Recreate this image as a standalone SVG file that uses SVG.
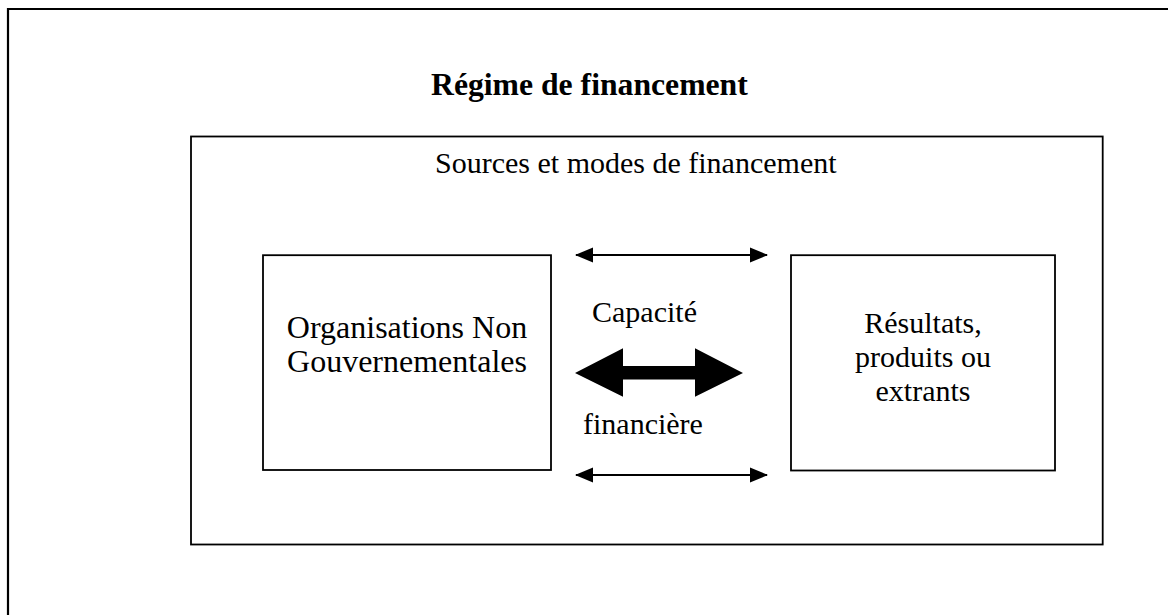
<svg xmlns="http://www.w3.org/2000/svg" width="1168" height="615" viewBox="0 0 1168 615">
<style>
  text { font-family: "Liberation Serif", "Times New Roman", serif; font-size: 30px; fill: #000; }
  .title { font-weight: bold; font-size: 31.7px; }
  .big { font-size: 32px; }
  .mid { text-anchor: middle; }
  .box { fill: #fff; stroke: #000; stroke-width: 1.8; }
  .thin { stroke: #000; stroke-width: 2; fill: none; }
</style>
<defs>
  <marker id="ah" markerUnits="userSpaceOnUse" markerWidth="18" markerHeight="16" refX="17" refY="8" orient="auto-start-reverse" viewBox="0 0 18 16">
    <path d="M0,0.5 L18,8 L0,15.5 Z" fill="#000"/>
  </marker>
</defs>
<rect x="0" y="0" width="1168" height="615" fill="#fff"/>
<g id="frame">
  <polyline points="8,615 8,9 1168,9" fill="none" stroke="#000" stroke-width="2.2"/>
</g>
<g id="title">
  <text class="title" x="431" y="95">Régime de financement</text>
</g>
<g id="sources">
  <rect class="box" x="191" y="136.5" width="911.7" height="408"/>
  <text x="435" y="173">Sources et modes de financement</text>
</g>
<g id="ong">
  <rect class="box" x="263" y="255.2" width="288" height="214.8"/>
  <text class="mid big" x="407" y="338">Organisations Non</text>
  <text class="mid big" x="407" y="372">Gouvernementales</text>
</g>
<g id="resultats">
  <rect class="box" x="791" y="255.2" width="264" height="215.3"/>
  <text class="mid" x="923" y="333">Résultats,</text>
  <text class="mid" x="923" y="367">produits ou</text>
  <text class="mid" x="923" y="401">extrants</text>
</g>
<g id="connectors">
  <line class="thin" x1="576" y1="255" x2="767" y2="255" marker-start="url(#ah)" marker-end="url(#ah)"/>
  <line class="thin" x1="576" y1="475" x2="767" y2="475" marker-start="url(#ah)" marker-end="url(#ah)"/>
  <polygon points="575,373 623,348.3 623,366 695,366 695,348.3 743,373 695,396.7 695,379.5 623,379.5 623,396.7" fill="#000"/>
  <text x="592" y="322">Capacité</text>
  <text x="583" y="434">financière</text>
</g>
</svg>
